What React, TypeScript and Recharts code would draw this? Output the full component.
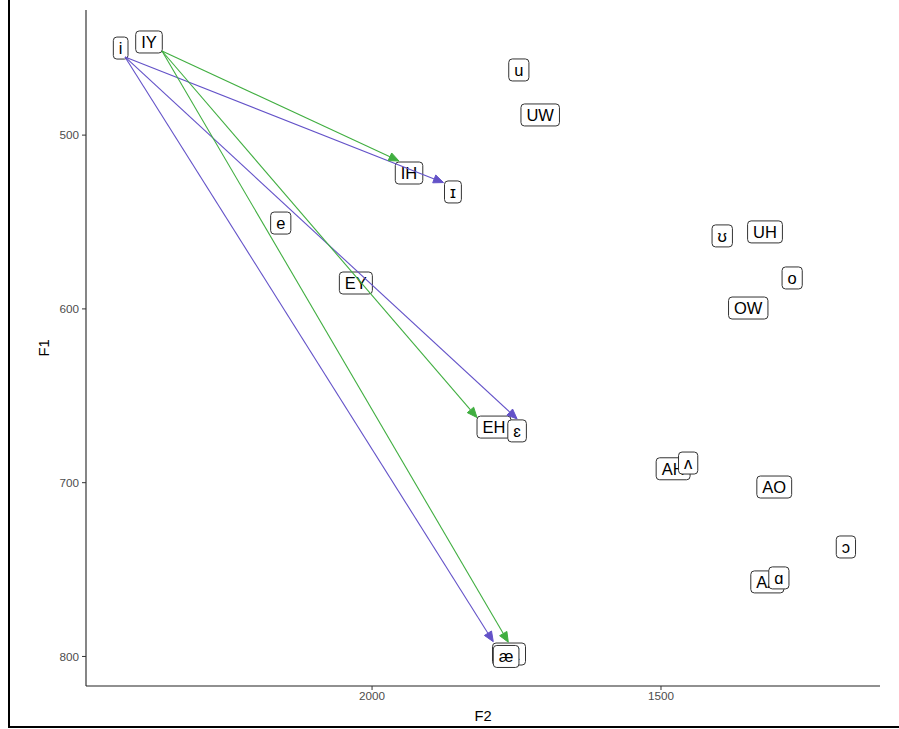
import React from 'react';
import { ScatterChart, Scatter, XAxis, YAxis, ReferenceLine, Label } from 'recharts';

// ARPABET labels (drawn first)
const arpaLabels = ['IY', 'UW', 'IH', 'EY', 'UH', 'OW', 'EH', 'AH', 'AO', 'AA', 'AE'];
const arpaF2 = [2386, 1709, 1936, 2028, 1320, 1349, 1789, 1479, 1304, 1316, 1763];
const arpaF1 = [446.4, 488.4, 521.8, 585.1, 555.7, 599.5, 668, 692, 702.5, 757.1, 798.6];

// IPA labels (drawn on top)
const ipaLabels = ['i', 'u', 'ɪ', 'e', 'ʊ', 'o', 'ɛ', 'ʌ', 'ɔ', 'ɑ', 'æ'];
const ipaF2 = [2435, 1746, 1860, 2158, 1394, 1273, 1749, 1453, 1180, 1296, 1768];
const ipaF1 = [449.9, 462.5, 532.7, 550.6, 558, 582.2, 670.2, 688.7, 737, 754.8, 800];

// arrows: IPA (purple) from i, ARPABET (green) from IY
const ipaArrowStart = { f2: 2427.5, f1: 455 };
const ipaArrowEndF2 = [1876.3, 1749, 1790.2];
const ipaArrowEndF1 = [527.3, 663.3, 791.5];
const arpaArrowStart = { f2: 2363.5, f1: 451.6 };
const arpaArrowEndF2 = [1953.4, 1818.4, 1764.2];
const arpaArrowEndF1 = [514.9, 662.5, 791.8];

const xTicks = [1500, 2000];
const yTicks = [500, 600, 700, 800];

const PURPLE = '#6352C8';
const GREEN = '#40AE40';
const FONT = '"Liberation Sans", Arial, sans-serif';
const LABEL_FS = 16.5;

let ctx: CanvasRenderingContext2D | null = null;
const measure = (t: string) => {
  if (!ctx) {
    const c = document.createElement('canvas');
    ctx = c.getContext('2d');
  }
  if (ctx) {
    ctx.font = `${LABEL_FS}px "Liberation Sans"`;
    return ctx.measureText(t).width;
  }
  return t.length * 10;
};

const labelData = [
  ...arpaLabels.map((l, i) => ({ x: arpaF2[i], y: arpaF1[i], label: l })),
  ...ipaLabels.map((l, i) => ({ x: ipaF2[i], y: ipaF1[i], label: l })),
];

const LabelShape = (props: any) => {
  const { cx, cy, payload } = props;
  const w = measure(payload.label) + 11;
  const h = 22;
  return (
    <g>
      <rect x={cx - w / 2} y={cy - h / 2} width={w} height={h} rx={3.5} ry={3.5} fill="#fff" stroke="#333" strokeWidth={1} />
      <text x={cx} y={cy + 6} textAnchor="middle" fontSize={LABEL_FS} fontFamily={FONT} fill="#000">
        {payload.label}
      </text>
    </g>
  );
};

const makeArrow = (color: string) => (props: any) => {
  const { x1, y1, x2, y2 } = props;
  const dx = x2 - x1;
  const dy = y2 - y1;
  const len = Math.sqrt(dx * dx + dy * dy) || 1;
  const ux = dx / len;
  const uy = dy / len;
  const L = 10;
  const W = 4.2;
  const bx = x2 - ux * L;
  const by = y2 - uy * L;
  const p1 = `${x2},${y2}`;
  const p2 = `${bx - uy * W},${by + ux * W}`;
  const p3 = `${bx + uy * W},${by - ux * W}`;
  return (
    <g>
      <line x1={x1} y1={y1} x2={bx} y2={by} stroke={color} strokeWidth={1.1} />
      <polygon points={`${p1} ${p2} ${p3}`} fill={color} stroke={color} strokeWidth={1} strokeLinejoin="miter" />
    </g>
  );
};

const purpleArrow = makeArrow(PURPLE);
const greenArrow = makeArrow(GREEN);

export default function App() {
  return (
    <div style={{ position: 'absolute', left: 0, top: 0, width: 899, height: 729, background: '#fff', fontFamily: FONT }}>
      <div
        style={{
          position: 'absolute',
          left: 8,
          top: 0,
          width: 889,
          height: 726,
          borderLeft: '2px solid #000',
          borderBottom: '2px solid #000',
        }}
      />
      <div style={{ position: 'absolute', left: 0, top: 0 }}>
        <ScatterChart width={899} height={729} margin={{ top: 10, right: 19, bottom: 0, left: 0 }}>
          <XAxis
            type="number"
            dataKey="x"
            domain={[1121, 2495]}
            reversed
            allowDataOverflow
            ticks={xTicks}
            height={43}
            tickSize={4}
            tickMargin={2}
            axisLine={{ stroke: '#222', strokeWidth: 1.1 }}
            tickLine={{ stroke: '#333' }}
            tick={{ fill: '#4d4d4d', fontSize: 11.7, fontFamily: FONT }}
          >
            <Label value="F2" position="insideBottom" offset={8} style={{ fontSize: 14.7, fill: '#000', fontFamily: FONT }} />
          </XAxis>
          <YAxis
            type="number"
            dataKey="y"
            domain={[428, 817]}
            reversed
            allowDataOverflow
            ticks={yTicks}
            width={86}
            tickSize={4}
            tickMargin={3}
            axisLine={{ stroke: '#222', strokeWidth: 1.1 }}
            tickLine={{ stroke: '#333' }}
            tick={{ fill: '#4d4d4d', fontSize: 11.7, fontFamily: FONT }}
          >
            <Label
              content={(p: any) => {
                const vb = p.viewBox || {};
                const cx = (vb.x || 0) + 44;
                const cy = (vb.y || 0) + (vb.height || 0) / 2;
                return (
                  <text
                    x={cx}
                    y={cy}
                    transform={`rotate(-90 ${cx} ${cy})`}
                    textAnchor="middle"
                    dominantBaseline="central"
                    fontSize={14.7}
                    fontFamily={FONT}
                    fill="#000"
                  >
                    F1
                  </text>
                );
              }}
            />
          </YAxis>
          <Scatter data={labelData} shape={LabelShape} isAnimationActive={false} />
          {ipaArrowEndF2.map((f2, i) => (
            <ReferenceLine
              key={`p${i}`}
              segment={[
                { x: ipaArrowStart.f2, y: ipaArrowStart.f1 },
                { x: f2, y: ipaArrowEndF1[i] },
              ]}
              ifOverflow="visible"
              shape={purpleArrow}
              zIndex={1000}
            />
          ))}
          {arpaArrowEndF2.map((f2, i) => (
            <ReferenceLine
              key={`g${i}`}
              segment={[
                { x: arpaArrowStart.f2, y: arpaArrowStart.f1 },
                { x: f2, y: arpaArrowEndF1[i] },
              ]}
              ifOverflow="visible"
              shape={greenArrow}
              zIndex={1000}
            />
          ))}
        </ScatterChart>
      </div>
    </div>
  );
}
